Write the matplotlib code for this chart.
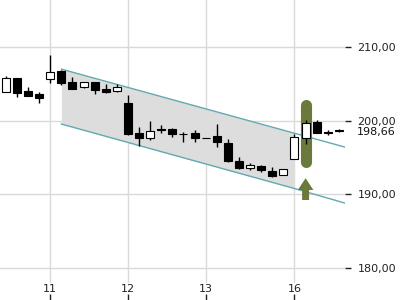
import matplotlib
matplotlib.use('Agg')
import matplotlib.pyplot as plt
import matplotlib.transforms as mtransforms

# hourly candles, index 0 = first candle of day 11
idx = list(range(-4, 27))
opens = [203.94, 205.75, 204.07, 203.58, 205.62, 206.78, 205.21, 204.53, 205.21, 204.26, 203.99,
         202.36, 198.37, 197.61, 198.85, 198.83, 198.17, 198.37, 197.63, 197.96, 196.93, 194.57,
         193.54, 193.85, 193.21, 192.63, 194.76, 197.61, 199.78, 198.43, 198.68]
highs = [206.0, 205.8, 204.6, 203.94, 208.91, 206.9, 205.89, 205.3, 205.3, 204.98, 204.98,
         203.49, 199.1, 199.96, 199.42, 199.05, 198.5, 198.74, 197.63, 199.55, 197.52, 195.03,
         194.3, 193.99, 193.67, 193.41, 198.19, 200.09, 200.09, 198.74, 198.85]
lows = [203.9, 203.25, 203.3, 202.36, 205.07, 204.9, 204.3, 204.4, 203.58, 203.7, 203.9,
        198.06, 196.61, 197.38, 198.37, 197.83, 197.15, 197.15, 197.6, 196.47, 194.44, 193.41,
        193.3, 193.0, 192.4, 192.63, 194.76, 196.8, 198.3, 198.06, 198.42]
closes = [205.83, 203.8, 203.4, 203.04, 206.57, 205.07, 204.34, 205.21, 204.17, 203.86, 204.53,
          198.2, 197.61, 198.6, 198.8, 198.2, 198.13, 197.69, 197.6, 197.07, 194.57, 193.54,
          193.99, 193.31, 192.5, 193.41, 197.75, 199.65, 198.37, 198.4, 198.66]

day_ticks = [0, 7, 14, 22]
day_labels = ['11', '12', '13', '16']
price_ticks = [180, 190, 200, 210]
last_price = 198.66

# trend channel
channel_x = [1, 22, 26.6]
channel_top = [207.0, 198.3, 196.4]
channel_bot = [199.55, 190.8, 188.8]

# buy signal
signal_x = 23
pill_range = [194.42, 202.16]
arrow_range = [189.24, 192.2]

green = '#6a7a3a'
teal = '#62a9b1'

fig = plt.figure(figsize=(4, 3), dpi=100)
ax = fig.add_axes([0, 17 / 300, 345 / 400, 283 / 300])
ax.set_xlim(-4.53, 26.55)
ax.set_ylim(177.98, 216.38)

for s in ax.spines.values():
    s.set_visible(False)
ax.grid(True, color='#d9d9d9', lw=1)
ax.set_axisbelow(True)

ax.fill_between(channel_x[:2], channel_top[:2], channel_bot[:2], color='#dddddd', lw=0, zorder=1)
ax.plot(channel_x, channel_top, color=teal, lw=1, zorder=2)
ax.plot(channel_x, channel_bot, color=teal, lw=1, zorder=2)

ax.plot([signal_x, signal_x], pill_range, color=green, lw=8, solid_capstyle='round', zorder=2.5)
ax.arrow(signal_x, arrow_range[0], 0, arrow_range[1] - arrow_range[0], width=0.63, head_width=1.4,
         head_length=1.6, length_includes_head=True, color=green, lw=0, zorder=3)

for i, o, h, l, c in zip(idx, opens, highs, lows, closes):
    ax.vlines(i, l, h, color='black', lw=1, zorder=3)
    fc = 'white' if c >= o else 'black'
    ax.bar(i, abs(c - o), bottom=min(o, c), width=0.72, color=fc, edgecolor='black', lw=0.8, zorder=4)

ax.set_xticks(day_ticks)
ax.set_xticklabels(day_labels)
ax.tick_params(axis='x', length=0, pad=0.5, labelsize=8, labelcolor='#222222')

ax.yaxis.tick_right()
ax.set_yticks(price_ticks)
ax.set_yticklabels([f'{v:.2f}'.replace('.', ',') for v in price_ticks])
ax.tick_params(axis='y', length=4, width=1, color='#222222', pad=5, labelsize=8, labelcolor='#222222')

trans = mtransforms.blended_transform_factory(fig.transFigure, ax.transData)
ax.text(357 / 400, last_price - 0.2, f'{last_price:.2f}'.replace('.', ','), transform=trans, ha='left',
        va='center', fontsize=8, color='#111111',
        bbox=dict(facecolor='white', edgecolor='none', pad=1), clip_on=False, zorder=10)

# x tick marks sit at the very bottom, under the labels
tk = fig.add_axes([0, 0, 345 / 400, 0.01])
tk.set_xlim(ax.get_xlim())
tk.patch.set_visible(False)
for s in tk.spines.values():
    s.set_visible(False)
tk.set_yticks([])
tk.set_xticks(day_ticks)
tk.tick_params(axis='x', direction='in', length=4, width=1, color='#222222', labelbottom=False)

fig.savefig('out.png', dpi=100)
